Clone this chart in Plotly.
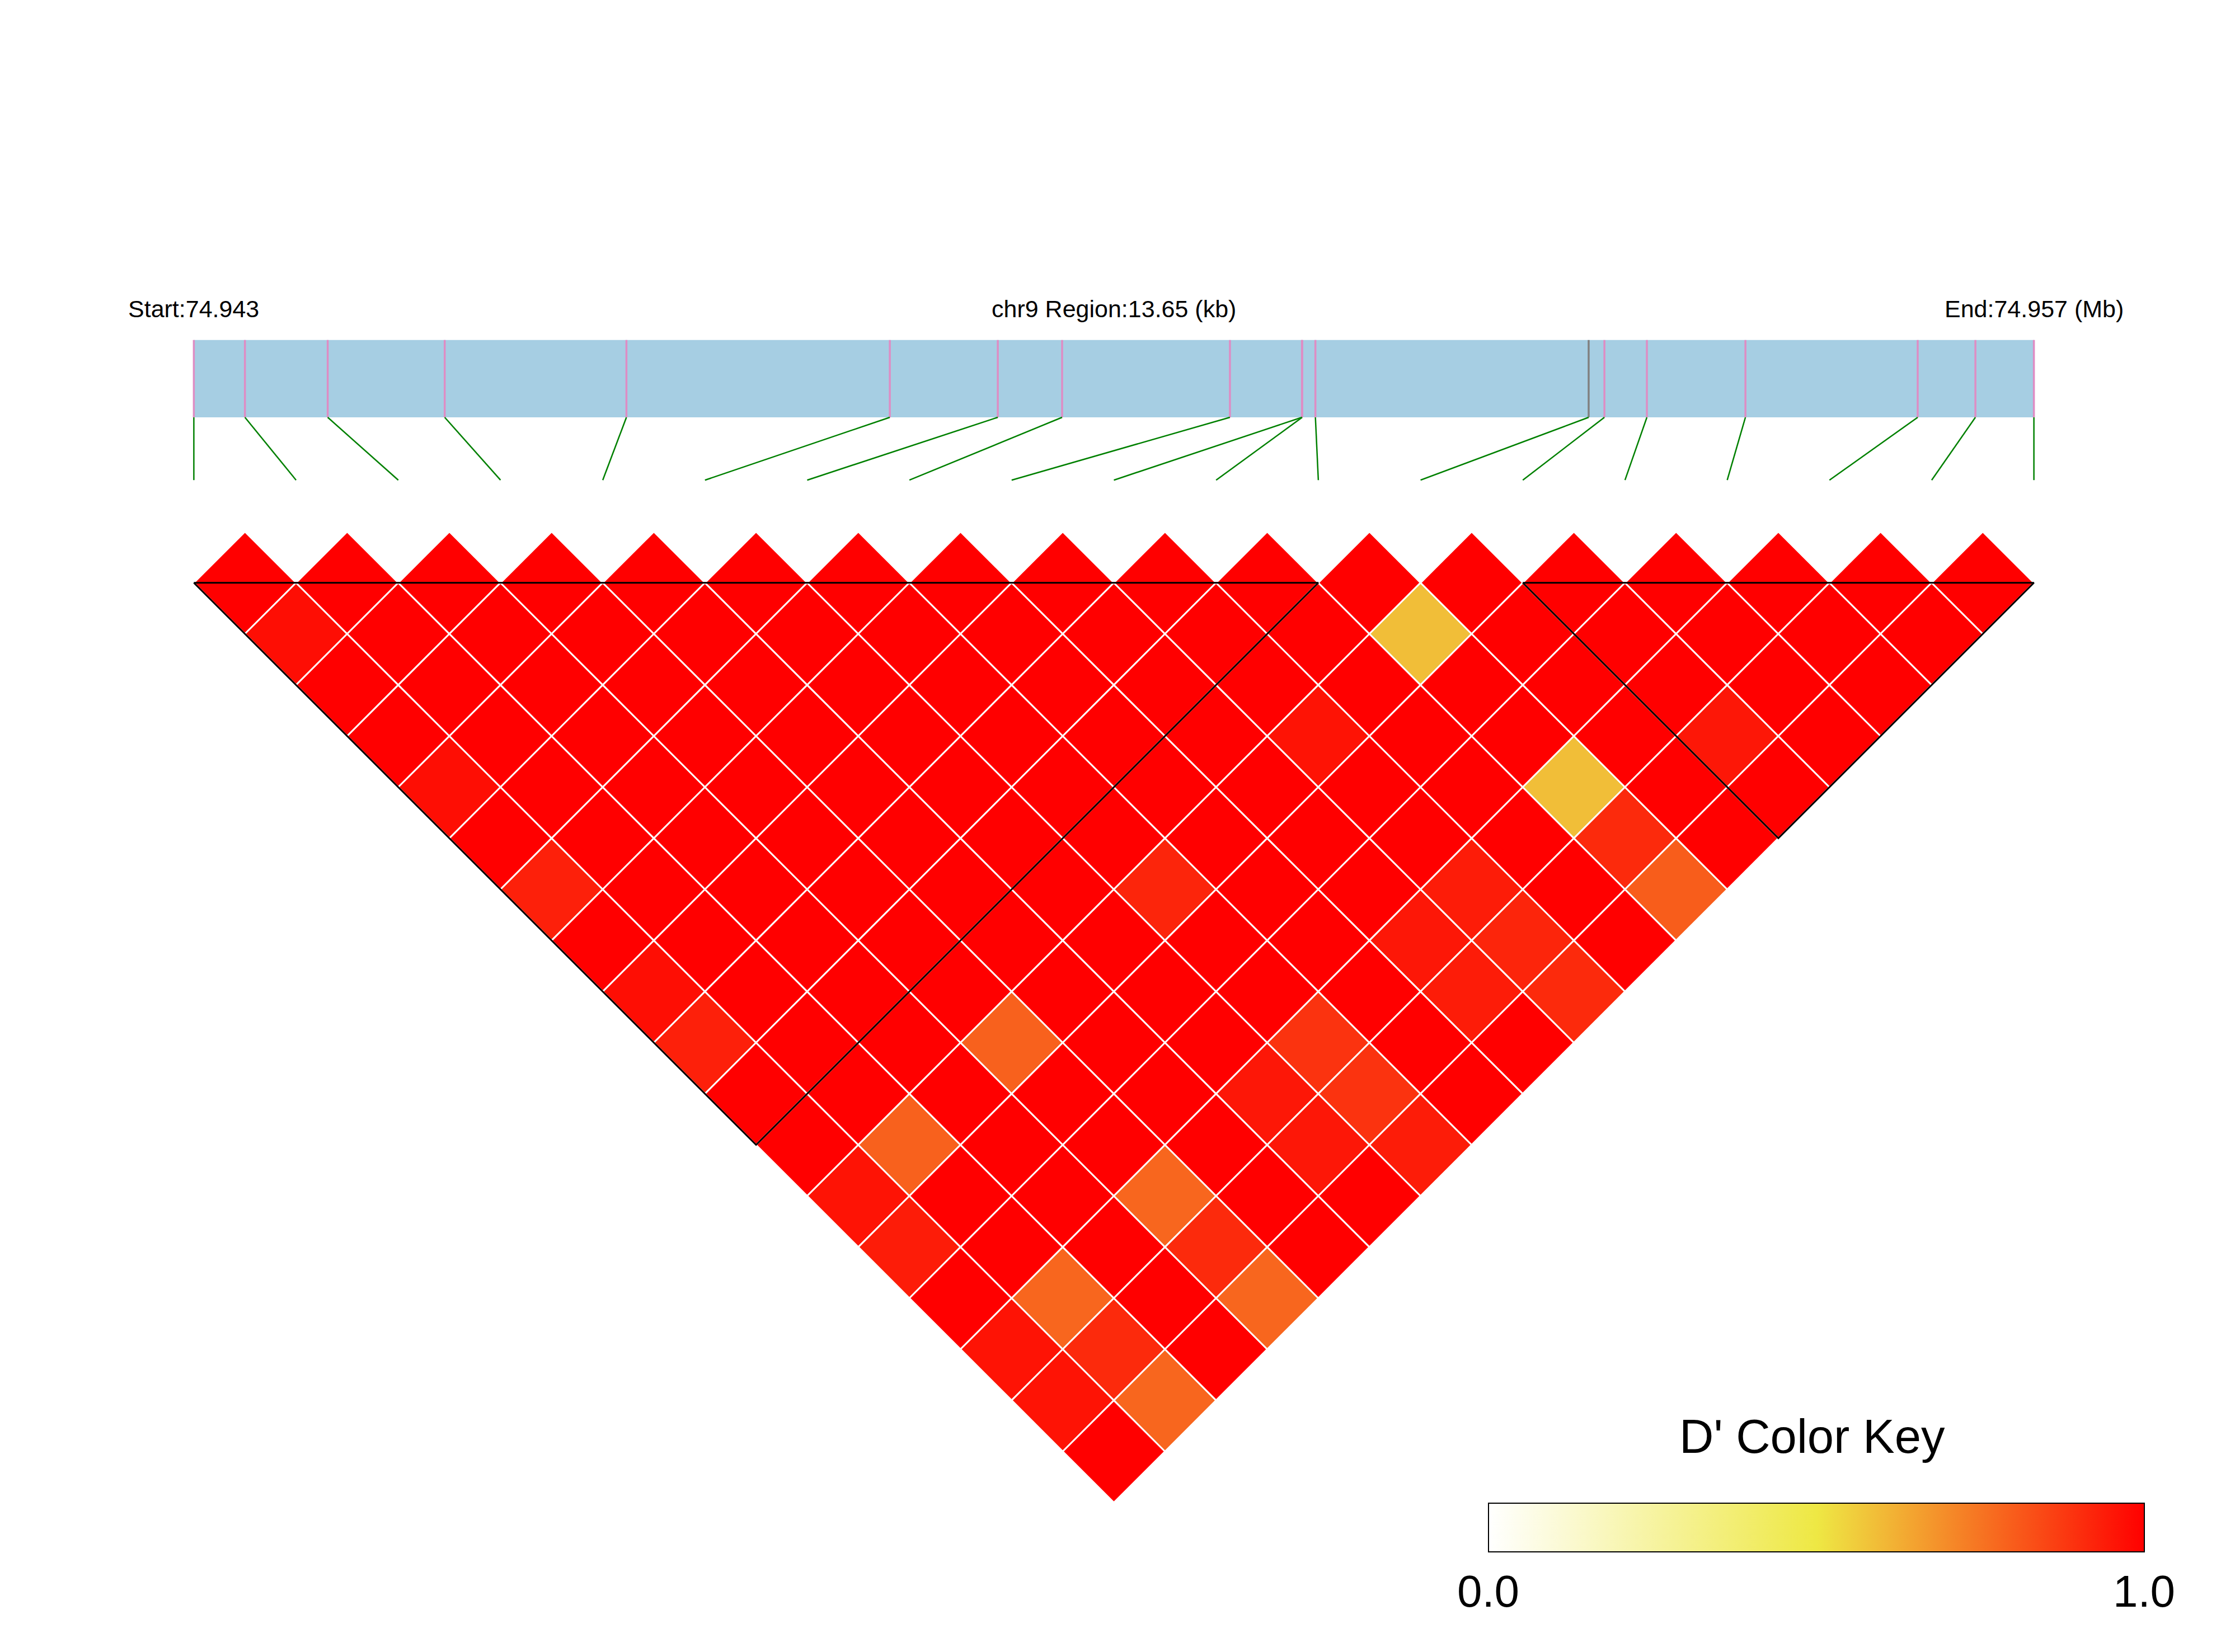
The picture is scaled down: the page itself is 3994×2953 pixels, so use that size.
import plotly.graph_objects as go

# ---------------- data ----------------
chrom = "chr9"
snp_pos = [74943210, 74943589, 74944203, 74945071, 74946419, 74948373, 74949174,
           74949651, 74950896, 74951430, 74951432, 74951530, 74953557, 74953674,
           74953989, 74954720, 74955998, 74956426, 74956860]

# D' values, row i holds pairs (i, j) for j = i+1 .. 18
dprime_rows = [
    [1.00, 0.97, 1.00, 1.00, 0.97, 1.00, 0.93, 1.00, 0.97, 0.93, 1.00, 1.00, 0.96, 0.94, 1.00, 0.96, 0.96, 1.00],
    [1.00, 1.00, 1.00, 1.00, 1.00, 1.00, 1.00, 1.00, 1.00, 1.00, 1.00, 0.79, 1.00, 1.00, 0.78, 0.91, 0.78],
    [1.00, 1.00, 1.00, 1.00, 1.00, 1.00, 1.00, 1.00, 1.00, 1.00, 1.00, 1.00, 1.00, 1.00, 1.00, 1.00],
    [1.00, 1.00, 1.00, 1.00, 1.00, 1.00, 1.00, 1.00, 1.00, 0.79, 1.00, 1.00, 0.78, 0.91, 0.78],
    [1.00, 1.00, 1.00, 1.00, 1.00, 1.00, 1.00, 1.00, 1.00, 1.00, 1.00, 1.00, 1.00, 1.00],
    [1.00, 1.00, 1.00, 1.00, 1.00, 1.00, 1.00, 1.00, 1.00, 1.00, 0.95, 0.95, 1.00],
    [1.00, 1.00, 1.00, 1.00, 1.00, 1.00, 0.92, 1.00, 1.00, 0.89, 0.89, 0.94],
    [1.00, 1.00, 1.00, 1.00, 1.00, 1.00, 1.00, 1.00, 1.00, 1.00, 1.00],
    [1.00, 1.00, 1.00, 1.00, 1.00, 1.00, 1.00, 0.95, 0.94, 1.00],
    [1.00, 1.00, 1.00, 0.96, 1.00, 1.00, 0.94, 0.92, 0.91],
    [1.00, 1.00, 1.00, 1.00, 1.00, 1.00, 1.00, 1.00],
    [1.00, 0.59, 1.00, 1.00, 0.59, 0.91, 0.80],
    [1.00, 1.00, 1.00, 1.00, 1.00, 1.00],
    [1.00, 1.00, 1.00, 0.95, 1.00],
    [1.00, 1.00, 1.00, 1.00],
    [1.00, 1.00, 1.00],
    [1.00, 1.00],
    [1.00],
]

ld_blocks = [(0, 11), (13, 18)]
highlight_snp = 12

# ---------------- layout constants ----------------
W, H = 3994, 2953
PX0 = 346.4          # pixel x of first SNP
STEP = 182.68        # pixel step between SNPs
LINE_Y = 1041.7      # pixel y of the top line
FONT = "Liberation Sans, Arial, sans-serif"
n = len(snp_pos)


def y_of(px):
    return 0.5 + (px - LINE_Y) / STEP


colorscale = [[0.0, "rgb(255,255,255)"], [0.5, "rgb(238,232,68)"], [1.0, "rgb(255,0,0)"]]

# ---------------- cells ----------------
cx, cy, cz = [], [], []
for i, row in enumerate(dprime_rows):
    for k, v in enumerate(row):
        j = i + 1 + k
        cx.append((i + j) / 2)
        cy.append((j - i) / 2)
        cz.append(v)

fig = go.Figure()

fig.add_trace(go.Scatter(
    x=cx, y=cy, mode="markers", hoverinfo="skip", showlegend=False,
    marker=dict(
        symbol="diamond", size=(STEP / 2) / 0.65, color=cz,
        colorscale=colorscale, cmin=0, cmax=1,
        line=dict(color="white", width=3),
        showscale=True,
        colorbar=dict(
            orientation="h", lenmode="pixels", len=1171.6,
            thicknessmode="pixels", thickness=87,
            x=3245.5 / W, xanchor="center", y=1 - 2687 / H, yanchor="top",
            xpad=0, ypad=0, outlinewidth=2, outlinecolor="black",
            tickvals=[0, 1], ticktext=["0.0", "1.0"],
            ticks="", ticklen=0,
            tickfont=dict(size=80, family=FONT, color="black"),
        ),
    ),
))

# ---------------- LD block outlines ----------------
bx, by = [], []
for a, b in ld_blocks:
    bx += [a, b, (a + b) / 2, a, None]
    by += [0.5, 0.5, 0.5 + (b - a) / 2, 0.5, None]
fig.add_trace(go.Scatter(x=bx, y=by, mode="lines", hoverinfo="skip", showlegend=False,
                         line=dict(color="black", width=3)))

# ---------------- gene track ----------------
p0, p1 = snp_pos[0], snp_pos[-1]
gx = [(p - p0) / (p1 - p0) * (n - 1) for p in snp_pos]
bar_top, bar_bot, conn_bot = y_of(607.8), y_of(746), y_of(858.2)

fig.add_shape(type="rect", xref="x", yref="y", x0=gx[0], x1=gx[-1], y0=bar_top, y1=bar_bot,
              fillcolor="#A6CEE3", line=dict(width=0), layer="below")

px_, py_, gx_, gy_ = [], [], [], []
for k, g in enumerate(gx):
    if k == highlight_snp:
        gx_ += [g, g, None]
        gy_ += [bar_top, bar_bot, None]
    else:
        px_ += [g, g, None]
        py_ += [bar_top, bar_bot, None]
fig.add_trace(go.Scatter(x=px_, y=py_, mode="lines", hoverinfo="skip", showlegend=False,
                         line=dict(color="#DE8DC4", width=3.5)))
fig.add_trace(go.Scatter(x=gx_, y=gy_, mode="lines", hoverinfo="skip", showlegend=False,
                         line=dict(color="#808080", width=3.5)))

lx, ly = [], []
for k, g in enumerate(gx):
    lx += [g, k, None]
    ly += [bar_bot, conn_bot, None]
fig.add_trace(go.Scatter(x=lx, y=ly, mode="lines", hoverinfo="skip", showlegend=False,
                         line=dict(color="#008000", width=2.5)))

# ---------------- texts ----------------
ty = y_of(552)
tfont = dict(size=43, family=FONT, color="black")
fig.add_annotation(x=gx[0], y=ty, xref="x", yref="y", text=f"Start:{p0 / 1e6:.3f}",
                   showarrow=False, font=tfont, xanchor="center", yanchor="middle")
fig.add_annotation(x=(gx[0] + gx[-1]) / 2, y=ty, xref="x", yref="y",
                   text=f"{chrom} Region:{(p1 - p0) / 1000:.2f} (kb)",
                   showarrow=False, font=tfont, xanchor="center", yanchor="middle")
fig.add_annotation(x=gx[-1], y=ty, xref="x", yref="y", text=f"End:{p1 / 1e6:.3f} (Mb)",
                   showarrow=False, font=tfont, xanchor="center", yanchor="middle")

fig.add_annotation(x=3238 / W, y=1 - 2617 / H, xref="paper", yref="paper",
                   text="D' Color Key", showarrow=False,
                   font=dict(size=85, family=FONT, color="black"),
                   xanchor="center", yanchor="bottom")

# ---------------- axes / layout ----------------
fig.update_layout(
    width=W, height=H, autosize=False,
    margin=dict(l=0, r=0, t=0, b=0, pad=0),
    paper_bgcolor="white", plot_bgcolor="white",
    xaxis=dict(range=[-PX0 / STEP, (W - PX0) / STEP], visible=False, fixedrange=True),
    yaxis=dict(range=[y_of(H), y_of(0)], visible=False, fixedrange=True),
)

fig.write_html("out.html", config={"displayModeBar": False},
               post_script="document.body.style.margin='0';document.body.style.overflow='hidden';")
